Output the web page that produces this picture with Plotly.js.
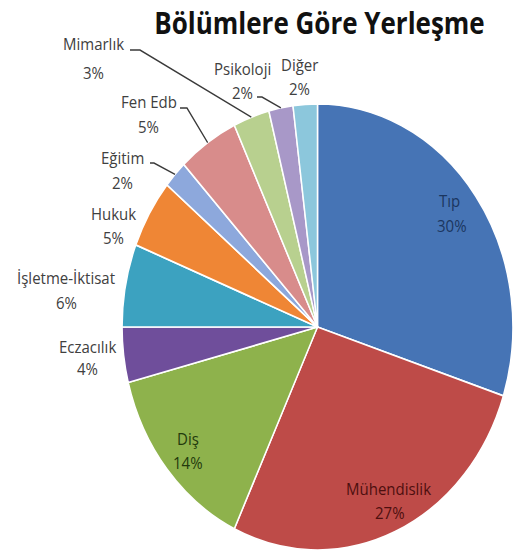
<!DOCTYPE html>
<html>
<head>
<meta charset="utf-8">
<script src="https://cdn.plot.ly/plotly-3.0.1.min.js"></script>
<style>
  html, body { margin: 0; padding: 0; background: #fff; }
  #wrap { position: relative; width: 514px; height: 558px; overflow: visible; }
  #plot { position: absolute; left: 0; top: 0; width: 514px; height: 489px; transform: scaleY(1.14110); transform-origin: 0 0; }
</style>
</head>
<body>
<div id="wrap"><div id="plot"></div></div>
<script>
// ---- data ----
const titleText = 'Bölümlere Göre Yerleşme';
const labels = ['Tıp', 'Mühendislik', 'Diş', 'Eczacılık', 'İşletme-İktisat', 'Hukuk', 'Eğitim', 'Fen Edb', 'Mimarlık', 'Psikoloji', 'Diğer'];
const values = [30, 27, 14, 4, 6, 5, 2, 5, 3, 2, 2];
const pctText = ['30%', '27%', '14%', '4%', '6%', '5%', '2%', '5%', '3%', '2%', '2%'];

// ---- styles / layout helpers ----
const colors = ['#4674B5', '#BE4B48', '#8EB24C', '#6F4E9B', '#3CA2C0', '#EF8635', '#8DA8DC', '#D88C8B', '#B8D08F', '#A898C8', '#8CC7DC'];
const textColors = ['#1B365F', '#4D0F0F', '#233A0C', '#404040', '#404040', '#404040', '#404040', '#404040', '#404040', '#404040', '#404040'];
// label centres in reference pixels: [nameX, nameY, pctX, pctY]
const labelPos = [
  [449, 200, 452, 225],
  [388, 488, 390, 512],
  [188, 438, 188, 462],
  [87, 346, 87, 369],
  [66, 277, 66, 302],
  [113, 213, 113, 237],
  [122, 158, 122, 183],
  [149, 102, 148, 127],
  [93, 43, 93, 72],
  [242, 68, 242, 92],
  [299, 64, 299, 88]
];
// leader line start + elbow (reference px) for labelled slices: [x0, y0, x1]
const leaders = { 'Eğitim': [150, 163, 154], 'Fen Edb': [180, 108, 187], 'Mimarlık': [130, 50, 140], 'Psikoloji': [257, 97, 262] };

const W = 514, H = 489, REFH = 558;
const px = x => x / W;
const py = y => 1 - y / REFH;
const domX = [122 / W, 513 / W];
const domY = [py(550), py(104)];

// geometry of pie for leader tips (derived from data)
const total = values.reduce((a, b) => a + b, 0);
const cxP = (domX[0] + domX[1]) / 2, cyP = (domY[0] + domY[1]) / 2;
const rPx = Math.min((domX[1] - domX[0]) * W, (domY[1] - domY[0]) * H) / 2;
let cum = 0;
const midAngles = values.map(v => { const a = (cum + v / 2) / total * 2 * Math.PI; cum += v; return a; });

const annotations = [];
labels.forEach((lab, i) => {
  const p = labelPos[i];
  const f = { family: 'Open Sans, sans-serif', size: 15, color: textColors[i] };
  annotations.push({ text: lab, x: px(p[0]), y: py(p[1]), xref: 'paper', yref: 'paper', xanchor: 'center', yanchor: 'middle', showarrow: false, font: f });
  annotations.push({ text: pctText[i], x: px(p[2]), y: py(p[3]), xref: 'paper', yref: 'paper', xanchor: 'center', yanchor: 'middle', showarrow: false, font: f });
});

const shapes = [];
labels.forEach((lab, i) => {
  const L = leaders[lab];
  if (!L) return;
  const a = midAngles[i];
  const tx = cxP + rPx * Math.sin(a) / W;
  const ty = cyP + rPx * Math.cos(a) / H;
  shapes.push({
    type: 'path', xref: 'paper', yref: 'paper',
    path: `M ${px(L[0])},${py(L[1])} L ${px(L[2])},${py(L[1])} L ${tx},${ty}`,
    line: { color: '#3a3a3a', width: 1.3 }
  });
});

const trace = {
  type: 'pie',
  labels: labels,
  values: values,
  sort: false,
  direction: 'clockwise',
  rotation: 0,
  textinfo: 'none',
  hoverinfo: 'none',
  marker: { colors: colors, line: { color: '#ffffff', width: 1.5 } },
  domain: { x: domX, y: domY },
  showlegend: false
};

const layout = {
  width: W, height: H,
  margin: { l: 0, r: 0, t: 0, b: 0 },
  paper_bgcolor: '#ffffff',
  showlegend: false,
  title: {
    text: '<b>' + titleText + '</b>',
    font: { family: 'Open Sans, sans-serif', size: 26, color: '#111111' },
    x: px(319.5), xanchor: 'center', xref: 'paper',
    y: py(24), yanchor: 'middle', yref: 'paper'
  },
  annotations: annotations,
  shapes: shapes
};

Plotly.newPlot('plot', [trace], layout, { staticPlot: true, displayModeBar: false });
</script>
</body>
</html>
